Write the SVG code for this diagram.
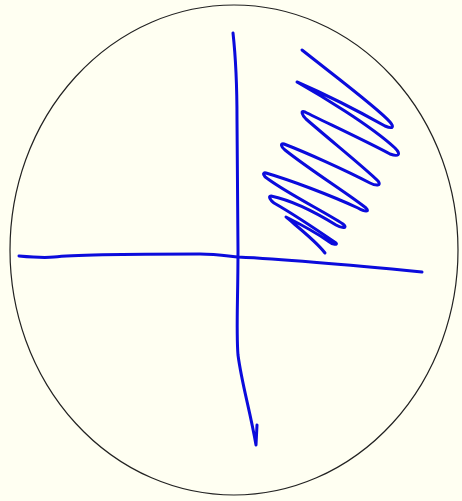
<svg xmlns="http://www.w3.org/2000/svg" width="462" height="501" viewBox="0 0 462 501">
<style>
.pen{fill:none;stroke:#0b0bdc;stroke-width:3;stroke-linecap:round;stroke-linejoin:round}
</style>
<rect width="462" height="501" fill="#fffff2"/>
<ellipse cx="234" cy="250" rx="224" ry="245" fill="none" stroke="#222" stroke-width="1.2"/>
<g id="strokes">
<path class="pen" d="M233,33 C236,60 237,80 237,120 L238,250 C238,300 236,330 238,355 C242,385 250,410 256,445 L257,425"/>
<path class="pen" d="M19,256 C30,257 45,258 54,257 C70,255 120,254 200,254 C215,254 228,256 238,257 C280,259 330,263 422,272"/>
<path class="pen" d="M302,50 C340,80 380,110 390,122 C395,128 392,129 385,126 C360,112 320,92 297,82 C320,95 370,125 395,148 C402,155 398,157 390,154 C370,143 325,122 305,112 C300,110 302,115 306,119 C330,140 365,168 378,181 C382,186 376,186 370,183 C345,170 305,152 284,144 C280,143 281,147 285,150 C310,170 350,195 366,208 C370,212 365,212 358,208 C330,195 290,180 266,173 C262,172 263,176 268,179 C290,195 325,212 343,224 C348,228 343,229 336,225 C315,212 290,200 271,196 C268,196 270,200 274,203 C295,215 320,232 336,243 C338,245 333,245 328,241 C315,232 300,224 286,217 C295,225 315,240 325,253"/>
</g>
</svg>
